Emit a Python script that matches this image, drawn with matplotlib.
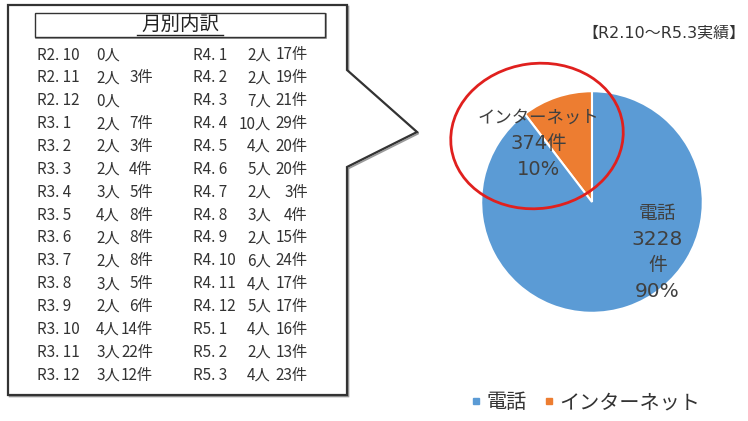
import matplotlib
matplotlib.use('Agg')
import matplotlib.pyplot as plt
from matplotlib.patches import Polygon, Rectangle, Ellipse
from matplotlib.lines import Line2D

plt.rcParams['font.family'] = ['Noto Sans CJK JP', 'DejaVu Sans']
wide = ['DejaVu Sans', 'Noto Sans CJK JP']  # 数字を幅広に

# 月別内訳（左列・右列）
months_left = ['R2. 10', 'R2. 11', 'R2. 12', 'R3. 1', 'R3. 2', 'R3. 3', 'R3. 4', 'R3. 5',
               'R3. 6', 'R3. 7', 'R3. 8', 'R3. 9', 'R3. 10', 'R3. 11', 'R3. 12']
people_left = [0, 2, 0, 2, 2, 2, 3, 4, 2, 2, 3, 2, 4, 3, 3]
cases_left = [None, 3, None, 7, 3, 4, 5, 8, 8, 8, 5, 6, 14, 22, 12]

months_right = ['R4. 1', 'R4. 2', 'R4. 3', 'R4. 4', 'R4. 5', 'R4. 6', 'R4. 7', 'R4. 8',
                'R4. 9', 'R4. 10', 'R4. 11', 'R4. 12', 'R5. 1', 'R5. 2', 'R5. 3']
people_right = [2, 2, 7, 10, 4, 5, 2, 3, 2, 6, 4, 5, 4, 2, 4]
cases_right = [17, 19, 21, 29, 20, 20, 3, 4, 15, 24, 17, 17, 16, 13, 23]

# 円グラフ
pie_labels = ['電話', 'インターネット']
pie_values = [3228, 374]
pie_colors = ['#5B9BD5', '#ED7D31']

fig = plt.figure(figsize=(7.48, 4.21), dpi=100)

# ---- 円グラフ ----
cx, cy, r = 592, 202, 113
pax = fig.add_axes([(cx - r) / 748, (421 - cy - r) / 421, 2 * r / 748, 2 * r / 421])
total = sum(pie_values)
wedges, _ = pax.pie(pie_values[::-1], colors=pie_colors[::-1], startangle=90, counterclock=True,
                    wedgeprops=dict(edgecolor='white', linewidth=1.5))
pax.set_aspect('equal')
pax.set_xlim(-1.02, 1.02)
pax.set_ylim(-1.02, 1.02)

txt_col = '#404040'
pct = [round(v / total * 100) for v in pie_values]
pax.text(-0.48, 0.76, pie_labels[1], ha='center', va='center', fontsize=12.5, color=txt_col)
pax.text(-0.48, 0.53, f'{pie_values[1]}件', ha='center', va='center', fontsize=14,
         color=txt_col, family=wide)
pax.text(-0.48, 0.29, f'{pct[1]}%', ha='center', va='center', fontsize=14,
         color=txt_col, family=wide)

pax.text(0.59, -0.10, pie_labels[0], ha='center', va='center', fontsize=13.5, color=txt_col)
pax.text(0.59, -0.34, f'{pie_values[0]}', ha='center', va='center', fontsize=14.5,
         color=txt_col, family=wide)
pax.text(0.59, -0.57, '件', ha='center', va='center', fontsize=13.5, color=txt_col)
pax.text(0.59, -0.81, f'{pct[0]}%', ha='center', va='center', fontsize=14.5,
         color=txt_col, family=wide)

# 凡例
handles = [Line2D([], [], marker='s', linestyle='', markersize=4, color=c) for c in pie_colors]
fig.legend(handles, pie_labels, loc='center', bbox_to_anchor=(0.783, 0.043), ncol=2, frameon=False,
           fontsize=14.5, handlelength=0.5, handletextpad=0.25, columnspacing=0.9,
           labelcolor='#333333')

# ---- 月別内訳（ピクセル座標の重ね描き） ----
ax = fig.add_axes([0, 0, 1, 1], facecolor='none')
ax.set_xlim(0, 748)
ax.set_ylim(421, 0)
ax.axis('off')

box = [(8, 5), (347, 5), (347, 70), (417, 132), (347, 167), (347, 395), (8, 395)]
ax.add_patch(Polygon([(x + 1.5, y + 1.5) for x, y in box], closed=True, fill=False,
                     edgecolor='#999999', linewidth=1.2))
ax.add_patch(Polygon(box, closed=True, facecolor='white', edgecolor='#333333', linewidth=1.6))

ax.add_patch(Rectangle((36, 14), 290, 24, fill=False, edgecolor='#888888', linewidth=1.2))
ax.add_patch(Rectangle((35, 13), 290, 24, facecolor='white', edgecolor='#333333', linewidth=1.0))
ax.text(180, 24.5, '月別内訳', ha='center', va='center', fontsize=14, color='#222222')
ax.plot([137, 223], [35, 35], color='#222222', linewidth=1.0)

tc = '#333333'
fs = 11
y0, dy = 55, 22.86
for i in range(len(months_left)):
    y = y0 + i * dy
    ax.text(37, y, months_left[i], ha='left', va='center', fontsize=fs, color=tc)
    ax.text(120, y, f'{people_left[i]}人', ha='right', va='center', fontsize=fs, color=tc)
    if cases_left[i] is not None:
        ax.text(153, y, f'{cases_left[i]}件', ha='right', va='center', fontsize=fs, color=tc)
for i in range(len(months_right)):
    y = y0 + i * dy
    ax.text(193, y, months_right[i], ha='left', va='center', fontsize=fs, color=tc)
    ax.text(271, y, f'{people_right[i]}人', ha='right', va='center', fontsize=fs, color=tc)
    ax.text(308, y, f'{cases_right[i]}件', ha='right', va='center', fontsize=fs, color=tc)

# 期間
ax.text(746, 33, '【R2.10～R5.3実績】', ha='right', va='center', fontsize=11.5, color='#333333',
        family=wide)

# 赤い楕円
ax.add_patch(Ellipse((537, 136), 173, 145, angle=-8, fill=False, edgecolor='#E0201E', linewidth=2))

fig.savefig('out.png', dpi=100)
